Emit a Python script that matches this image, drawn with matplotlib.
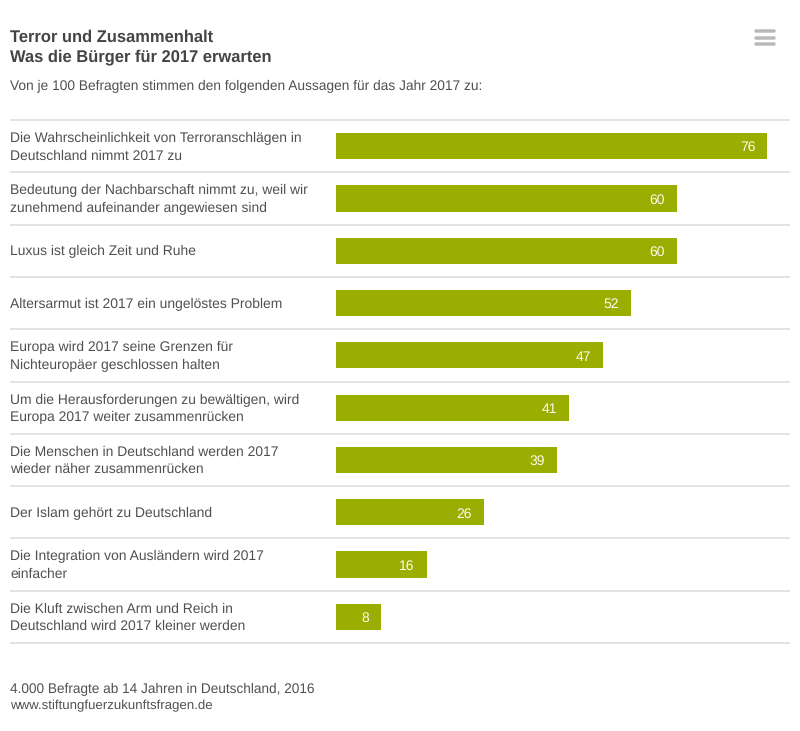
import matplotlib
matplotlib.use("Agg")
import matplotlib.pyplot as plt
from matplotlib.patches import FancyBboxPatch
from matplotlib.transforms import blended_transform_factory

plt.rcParams["font.family"] = ["Liberation Sans", "DejaVu Sans"]
plt.rcParams["text.hinting"] = "none"
plt.rcParams["text.hinting_factor"] = 8

labels = [
    "Die Wahrscheinlichkeit von Terroranschlägen in\nDeutschland nimmt 2017 zu",
    "Bedeutung der Nachbarschaft nimmt zu, weil wir\nzunehmend aufeinander angewiesen sind",
    "Luxus ist gleich Zeit und Ruhe",
    "Altersarmut ist 2017 ein ungelöstes Problem",
    "Europa wird 2017 seine Grenzen für\nNichteuropäer geschlossen halten",
    "Um die Herausforderungen zu bewältigen, wird\nEuropa 2017 weiter zusammenrücken",
    "Die Menschen in Deutschland werden 2017\nwieder näher zusammenrücken",
    "Der Islam gehört zu Deutschland",
    "Die Integration von Ausländern wird 2017\neinfacher",
    "Die Kluft zwischen Arm und Reich in\nDeutschland wird 2017 kleiner werden",
]
values = [76, 60, 60, 52, 47, 41, 39, 26, 16, 8]

W, H = 800, 731
BAR_COLOR = "#99ae00"
TEXT_COLOR = "#505050"
LINE_COLOR = "#e0e0e0"
PX_PER_UNIT = 5.675

def fx(px):
    return px / W

def fy(px):
    return 1 - px / H

fig = plt.figure(figsize=(W / 100, H / 100), dpi=100, facecolor="white")

# axes span the table area
ax = fig.add_axes([fx(336), fy(643), fx(790 - 336), (643 - 120) / H])
ax.set_xlim(0, (790 - 336) / PX_PER_UNIT)
ax.set_ylim(len(values) - 0.5, -0.5)
ax.axis("off")

rows = list(range(len(values)))
ax.barh(rows, values, height=0.5, color=BAR_COLOR, linewidth=0)

# row separators reach left of the axes, up to the label column
trans = blended_transform_factory(fig.transFigure, ax.transData)
for sep in [r - 0.5 for r in rows] + [len(values) - 0.5]:
    ax.plot([fx(10), fx(790)], [sep, sep], transform=trans, color=LINE_COLOR,
            lw=1.3, clip_on=False, solid_capstyle="butt")

for r, lab, val in zip(rows, labels, values):
    ax.text(fx(10), r + 0.02, lab, transform=trans, ha="left", va="center",
            fontsize=10.0, color=TEXT_COLOR, linespacing=1.42, clip_on=False)
    # value is right aligned 12px in from the end of the bar
    ax.text(val - 12 / PX_PER_UNIT, r + 0.03, str(val), ha="right",
            va="center", fontsize=10.0, color="#fbfbef")

fig.text(fx(10), fy(41.5), "Terror und Zusammenhalt", fontsize=11.92, fontweight="bold",
         color="#444444", ha="left", va="baseline")
fig.text(fx(10), fy(61.5), "Was die Bürger für 2017 erwarten", fontsize=11.92, fontweight="bold",
         color="#444444", ha="left", va="baseline")
fig.text(fx(10), fy(90), "Von je 100 Befragten stimmen den folgenden Aussagen für das Jahr 2017 zu:",
         fontsize=9.94, color=TEXT_COLOR, ha="left", va="baseline")
fig.text(fx(10), fy(693), "4.000 Befragte ab 14 Jahren in Deutschland, 2016",
         fontsize=9.77, color=TEXT_COLOR, ha="left", va="baseline")
fig.text(fx(10), fy(709), "www.stiftungfuerzukunftsfragen.de",
         fontsize=9.58, color=TEXT_COLOR, ha="left", va="baseline")

# menu icon top right
for py in [31, 38, 44]:
    fig.add_artist(FancyBboxPatch((755, H - py - 1), 20, 2, boxstyle="round,pad=0,rounding_size=1",
                                  transform=None, facecolor="#b8b8b8", edgecolor="#b8b8b8", lw=1))

fig.savefig("out.png", dpi=100, facecolor="white")
